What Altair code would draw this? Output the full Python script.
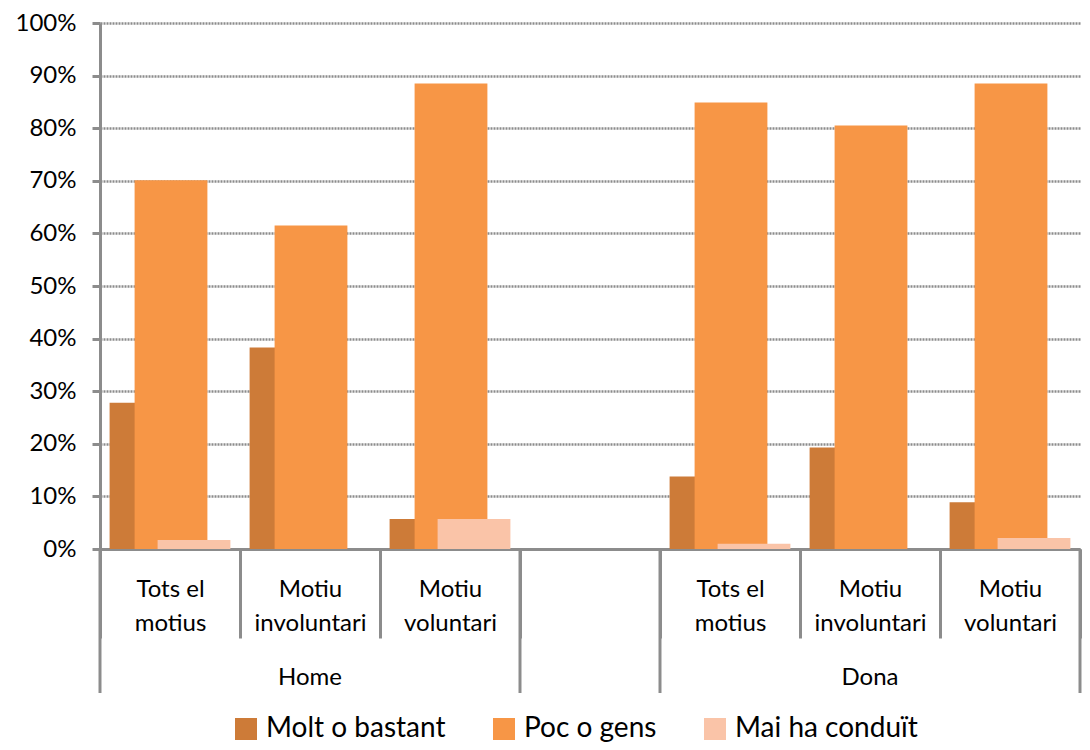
import altair as alt
import pandas as pd

groups = ["Home", "Home", "Home", "", "Dona", "Dona", "Dona"]
subcats = ["Tots el|motius", "Motiu|involuntari", "Motiu|voluntari", " ",
           "Tots el|motius", "Motiu|involuntari", "Motiu|voluntari"]
series = ["Molt o bastant", "Poc o gens", "Mai ha conduït"]
colors = ["#CD7B38", "#F79646", "#FAC4A8"]

molt = [0.278, 0.383, 0.057, None, 0.138, 0.193, 0.089]
poc = [0.701, 0.615, 0.885, None, 0.849, 0.805, 0.885]
mai = [0.017, 0.0, 0.057, None, 0.010, 0.0, 0.021]

keys = [f"{i}|{s}" for i, s in enumerate(subcats)]

rows = []
for i, k in enumerate(keys):
    for s, vals in zip(series, [molt, poc, mai]):
        if vals[i] is not None:
            rows.append({"key": k, "series": s, "value": vals[i], "group": groups[i]})
df = pd.DataFrame(rows)

FONT = "Lato"
GRAY = "#8c8c8c"
H = 526

xscale = alt.Scale(domain=keys, paddingInner=0, paddingOuter=0)
xaxis = alt.Axis(
    labelExpr="slice(split(datum.label, '|'), 1)",
    labelAngle=0, labelFont=FONT, labelFontSize=24, labelLineHeight=34,
    labelColor="black", labelPadding=-61, labelBound=False, labelOverlap=False,
    tickBand="extent", tickSize=89, tickWidth=3, tickColor=GRAY,
    domainColor=GRAY, domainWidth=3, grid=False,
)
xenc = alt.X("key:N", scale=xscale, sort=keys, title=None, axis=xaxis)
yenc = alt.Y(
    "value:Q", scale=alt.Scale(domain=[0, 1]), title=None,
    axis=alt.Axis(
        format="%", values=[i / 10 for i in range(11)],
        grid=True, gridDash=[2, 1], gridColor=GRAY, gridWidth=2.5,
        domainColor=GRAY, domainWidth=3, tickColor=GRAY, tickWidth=3, tickSize=8,
        labelFont=FONT, labelFontSize=24, labelColor="black", labelPadding=16,
    ),
)
cenc = alt.Color(
    "series:N", scale=alt.Scale(domain=series, range=colors),
    legend=alt.Legend(
        orient="none", legendX=132, legendY=692, direction="horizontal", columns=3,
        title=None, symbolType="square", symbolSize=484, symbolStrokeWidth=0,
        labelFont=FONT, labelFontSize=28, labelColor="black", labelLimit=400,
        columnPadding=44, labelOffset=6, padding=0,
    ),
)

offsets = [-24, 1, 24]
bars = []
for s, off in zip(series, offsets):
    bars.append(
        alt.Chart(df).transform_filter(alt.datum.series == s)
        .mark_bar(width=alt.RelativeBandSize(0.52), xOffset=off)
        .encode(x=xenc, y=yenc, color=cenc)
    )

sep_df = pd.DataFrame({"key": [keys[0], keys[3], keys[4]]})
seps = alt.Chart(sep_df).mark_rule(color=GRAY, strokeWidth=3).encode(
    x=alt.X("key:N", scale=xscale, sort=keys, bandPosition=0, title=None, axis=xaxis),
    y=alt.value(H), y2=alt.value(H + 144),
)
sep_end = alt.Chart(pd.DataFrame({"key": [keys[6]]})).mark_rule(color=GRAY, strokeWidth=3).encode(
    x=alt.X("key:N", scale=xscale, sort=keys, bandPosition=1, title=None, axis=xaxis),
    y=alt.value(H), y2=alt.value(H + 144),
)
grp_df = pd.DataFrame({"key": [keys[1], keys[5]], "group": ["Home", "Dona"]})
grp = alt.Chart(grp_df).mark_text(font=FONT, fontSize=24, color="black", baseline="middle").encode(
    x=xenc, y=alt.value(H + 129), text="group:N",
)

chart = alt.layer(*bars, seps, sep_end, grp).properties(
    width=980, height=H,
    autosize=alt.AutoSizeParams(type="none"),
    padding={"left": 92, "top": 15, "right": 2, "bottom": 193},
).configure_view(stroke=None)

chart.save("out.html", embed_options={"renderer": "svg", "actions": False})
